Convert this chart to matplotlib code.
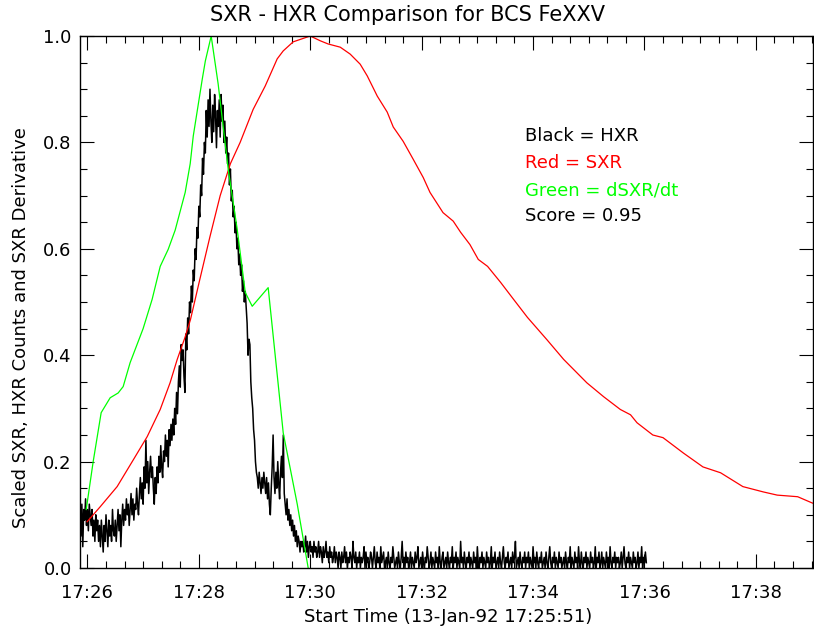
import matplotlib
matplotlib.use("Agg")
import matplotlib.pyplot as plt
import numpy as np
from matplotlib.ticker import MultipleLocator, FixedLocator

# ---------------- data ----------------
start_time = "17:25:51"
tick_labels = ["17:26", "17:28", "17:30", "17:32", "17:34", "17:36", "17:38"]

# HXR counts (scaled), sampled every 1 s starting 1 s after start
hxr_t0 = 1.0
hxr_dt = 1.0
hxr_counts = [
    0.10, 0.06, 0.12, 0.04, 0.11, 0.09, 0.13, 0.08, 0.11, 0.07, 0.12, 0.10, 0.08, 0.11, 0.06, 0.09, 0.05, 0.10, 0.07, 0.09,
    0.05, 0.08, 0.04, 0.09, 0.06, 0.03, 0.08, 0.05, 0.10, 0.07, 0.04, 0.09, 0.06, 0.08, 0.05, 0.11, 0.07, 0.06, 0.09, 0.05,
    0.08, 0.11, 0.07, 0.10, 0.04, 0.09, 0.12, 0.08, 0.11, 0.09, 0.13, 0.10, 0.12, 0.08, 0.11, 0.14, 0.10, 0.13, 0.09, 0.12,
    0.11, 0.15, 0.12, 0.10, 0.14, 0.17, 0.13, 0.16, 0.12, 0.19, 0.15, 0.24, 0.16, 0.20, 0.14, 0.18, 0.21, 0.17, 0.19, 0.15,
    0.12, 0.17, 0.14, 0.19, 0.16, 0.21, 0.18, 0.23, 0.19, 0.17, 0.22, 0.20, 0.25, 0.21, 0.24, 0.19, 0.26, 0.23, 0.27, 0.24,
    0.28, 0.25, 0.30, 0.27, 0.33, 0.29, 0.35, 0.38, 0.34, 0.42, 0.39, 0.41, 0.36, 0.33, 0.44, 0.41, 0.47, 0.44, 0.50, 0.48,
    0.53, 0.50, 0.56, 0.54, 0.60, 0.58, 0.64, 0.62, 0.68, 0.66, 0.72, 0.70, 0.77, 0.74, 0.80, 0.78, 0.86, 0.81, 0.88, 0.83,
    0.90, 0.84, 0.80, 0.87, 0.82, 0.89, 0.85, 0.79, 0.86, 0.83, 0.88, 0.81, 0.89, 0.84, 0.87, 0.80, 0.84, 0.78, 0.81, 0.76,
    0.78, 0.72, 0.75, 0.69, 0.71, 0.66, 0.68, 0.63, 0.65, 0.60, 0.62, 0.57, 0.59, 0.55, 0.57, 0.52, 0.54, 0.50, 0.52, 0.49,
    0.46, 0.40, 0.43, 0.42, 0.35, 0.32, 0.30, 0.26, 0.24, 0.20, 0.18, 0.17, 0.15, 0.18, 0.16, 0.14, 0.17, 0.15, 0.18, 0.16,
    0.14, 0.17, 0.13, 0.16, 0.12, 0.10, 0.15, 0.19, 0.25, 0.17, 0.14, 0.18, 0.15, 0.20, 0.16, 0.13, 0.18, 0.21, 0.17, 0.25,
    0.14, 0.12, 0.10, 0.13, 0.09, 0.11, 0.08, 0.10, 0.07, 0.09, 0.06, 0.08, 0.05, 0.07, 0.04, 0.06, 0.05, 0.03, 0.05, 0.04,
    0.05, 0.03, 0.04, 0.06, 0.03, 0.05, 0.02, 0.04, 0.05, 0.03, 0.04, 0.02, 0.05, 0.03, 0.04, 0.02, 0.03, 0.05, 0.02, 0.04,
    0.03, 0.01, 0.04, 0.02, 0.03, 0.05, 0.02, 0.03, 0.01, 0.04, 0.02, 0.03, 0.01, 0.02, 0.04, 0.01, 0.03, 0.02, 0.00, 0.03,
    0.02, 0.00, 0.03, 0.01, 0.02, 0.04, 0.01, 0.03, 0.00, 0.02, 0.01, 0.03, 0.02, 0.00, 0.05, 0.02, 0.01, 0.03, 0.00, 0.02,
    0.01, 0.03, 0.00, 0.02, 0.01, 0.02, 0.04, 0.00, 0.03, 0.01, 0.02, 0.00, 0.01, 0.03, 0.02, 0.00, 0.02, 0.04, 0.01, 0.00,
    0.03, 0.01, 0.02, 0.00, 0.04, 0.01, 0.02, 0.03, 0.00, 0.01, 0.02, 0.00, 0.03, 0.01, 0.00, 0.02, 0.01, 0.04, 0.02, 0.00,
    0.01, 0.02, 0.00, 0.03, 0.01, 0.00, 0.02, 0.05, 0.01, 0.02, 0.00, 0.03, 0.01, 0.02, 0.00, 0.01, 0.03, 0.00, 0.02, 0.01,
    0.00, 0.03, 0.01, 0.02, 0.04, 0.00, 0.01, 0.02, 0.00, 0.03, 0.01, 0.00, 0.02, 0.01, 0.04, 0.02, 0.00, 0.01, 0.03, 0.00,
    0.02, 0.01, 0.00, 0.03, 0.01, 0.02, 0.00, 0.04, 0.01, 0.00, 0.02, 0.03, 0.00, 0.01, 0.02, 0.00, 0.03, 0.01, 0.00, 0.02,
    0.01, 0.04, 0.00, 0.02, 0.01, 0.03, 0.00, 0.02, 0.01, 0.00, 0.05, 0.01, 0.02, 0.00, 0.03, 0.01, 0.00, 0.02, 0.01, 0.03,
    0.00, 0.02, 0.01, 0.00, 0.03, 0.01, 0.02, 0.00, 0.04, 0.01, 0.00, 0.02, 0.01, 0.03, 0.00, 0.02, 0.01, 0.00, 0.03, 0.01,
    0.02, 0.00, 0.01, 0.04, 0.00, 0.02, 0.01, 0.03, 0.00, 0.01, 0.02, 0.00, 0.03, 0.01, 0.00, 0.02, 0.04, 0.01, 0.00, 0.02,
    0.01, 0.03, 0.00, 0.01, 0.02, 0.00, 0.03, 0.01, 0.02, 0.05, 0.00, 0.01, 0.02, 0.00, 0.03, 0.01, 0.00, 0.02, 0.01, 0.03,
    0.00, 0.02, 0.01, 0.03, 0.00, 0.02, 0.01, 0.00, 0.04, 0.01, 0.02, 0.00, 0.03, 0.01, 0.00, 0.02, 0.01, 0.03, 0.00, 0.01,
    0.02, 0.00, 0.03, 0.01, 0.00, 0.02, 0.04, 0.01, 0.00, 0.02, 0.01, 0.03, 0.00, 0.02, 0.01, 0.00, 0.03, 0.01, 0.02, 0.00,
    0.01, 0.02, 0.00, 0.03, 0.01, 0.00, 0.02, 0.01, 0.04, 0.00, 0.02, 0.01, 0.00, 0.03, 0.01, 0.02, 0.00, 0.04, 0.01, 0.00,
    0.03, 0.01, 0.00, 0.02, 0.01, 0.03, 0.00, 0.02, 0.01, 0.00, 0.03, 0.01, 0.02, 0.00, 0.01, 0.04, 0.00, 0.02, 0.01, 0.03,
    0.00, 0.01, 0.03, 0.00, 0.02, 0.01, 0.00, 0.03, 0.01, 0.02, 0.00, 0.04, 0.01, 0.00, 0.02, 0.01, 0.03, 0.00, 0.02, 0.01,
    0.02, 0.00, 0.01, 0.03, 0.00, 0.02, 0.04, 0.01, 0.00, 0.02, 0.01, 0.03, 0.00, 0.02, 0.01, 0.00, 0.03, 0.01, 0.02, 0.00,
    0.01, 0.03, 0.00, 0.02, 0.01, 0.04, 0.00, 0.02, 0.01, 0.03, 0.01,
]

# SXR (scaled), seconds after start
sxr_t = [8.7, 22.7, 41, 58.3, 73.4, 87.4, 98, 105.7, 114, 120, 130, 141, 152,
         163, 173.5, 187.5, 200.5, 213.4, 219.9, 230.6, 249, 259.8, 268.3,
         281.3, 292, 302.8, 310.4, 321.2, 331.9, 338.4, 349.1, 360, 370.7, 378,
         392, 403, 411, 421, 430, 440, 454, 468, 483, 504, 522, 547, 565, 583,
         594, 601, 618, 629, 651, 672, 691, 715, 737, 752, 774, 790]
sxr_v = [0.087, 0.115, 0.153, 0.203, 0.247, 0.298, 0.348, 0.392, 0.433, 0.467,
         0.542, 0.623, 0.700, 0.760, 0.800, 0.862, 0.906, 0.957, 0.972, 0.989,
         1.000, 0.991, 0.985, 0.979, 0.966, 0.947, 0.925, 0.887, 0.857, 0.829,
         0.802, 0.768, 0.734, 0.706, 0.668, 0.652, 0.631, 0.608, 0.580, 0.567,
         0.537, 0.505, 0.471, 0.429, 0.392, 0.348, 0.322, 0.298, 0.288, 0.273,
         0.250, 0.245, 0.216, 0.190, 0.179, 0.153, 0.143, 0.137, 0.134, 0.122]

# dSXR/dt (scaled), seconds after start
dsxr_t = [7.7, 15.2, 23.8, 33.5, 42.1, 47.5, 55, 69, 78.7, 87.4, 96, 103.5,
          114.3, 119.7, 123, 132.7, 136, 142.3, 149.8, 160.6, 170.3, 179,
          186.5, 203.7, 219.9, 235, 246.8]
dsxr_v = [0.110, 0.200, 0.292, 0.320, 0.329, 0.341, 0.386, 0.450, 0.505, 0.567,
          0.599, 0.635, 0.706, 0.760, 0.812, 0.919, 0.953, 1.000, 0.910, 0.750,
          0.637, 0.518, 0.492, 0.527, 0.254, 0.120, 0.000]

legend_lines = [("Black = HXR", "black"), ("Red = SXR", "#ff0000"),
                ("Green = dSXR/dt", "#00ff00"), ("Score = 0.95", "black")]

# ---------------- plot ----------------
def hms_to_s(s):
    parts = [int(p) for p in s.split(":")]
    while len(parts) < 3:
        parts.append(0)
    return parts[0] * 3600 + parts[1] * 60 + parts[2]

t_start = hms_to_s(start_time)
tick_pos = [hms_to_s(lbl) - t_start for lbl in tick_labels]

hxr_t = hxr_t0 + hxr_dt * np.arange(len(hxr_counts))

plt.rcParams["font.family"] = ["DejaVu Sans"]
fig = plt.figure(figsize=(8.14, 6.3), dpi=100)
ax = fig.add_axes([80 / 814, 62 / 630, 732.5 / 814, 532 / 630])

ax.plot(hxr_t, hxr_counts, color="black", lw=1.1)
ax.plot(sxr_t, sxr_v, color="#ff0000", lw=0.9)
ax.plot(dsxr_t, dsxr_v, color="#00ff00", lw=0.9)

ax.set_xlim(1, 790)
ax.set_ylim(0, 1.0)

ax.xaxis.set_major_locator(FixedLocator(tick_pos))
ax.set_xticklabels(tick_labels)
ax.xaxis.set_minor_locator(FixedLocator(np.arange(tick_pos[0], 790, 20)))
ax.set_yticks(np.arange(0, 1.01, 0.2))
ax.set_yticklabels([f"{v:.1f}" for v in np.arange(0, 1.01, 0.2)])
ax.yaxis.set_minor_locator(MultipleLocator(0.05))

ax.tick_params(which="both", direction="in", top=True, right=True,
               width=0.8, colors="black", labelsize=13)
ax.tick_params(which="major", length=10)
ax.tick_params(which="minor", length=5)
ax.tick_params(axis="x", pad=11.5)
ax.tick_params(axis="y", pad=6)
for sp in ax.spines.values():
    sp.set_linewidth(1.0)

fig.text(0.5, (630 - 15) / 630, "SXR - HXR Comparison for BCS FeXXV",
         ha="center", va="center", fontsize=15)
fig.text(448 / 814, 13 / 630, "Start Time (13-Jan-92 17:25:51)",
         ha="center", va="center", fontsize=13)
fig.text(21 / 814, 302 / 630, "Scaled SXR, HXR Counts and SXR Derivative",
         ha="center", va="center", rotation=90, fontsize=13)

ys = [0.812, 0.761, 0.710, 0.661]
for (txt, col), yv in zip(legend_lines, ys):
    ax.text(480, yv, txt, color=col, fontsize=13, ha="left", va="center")

fig.savefig("out.png", dpi=100)
